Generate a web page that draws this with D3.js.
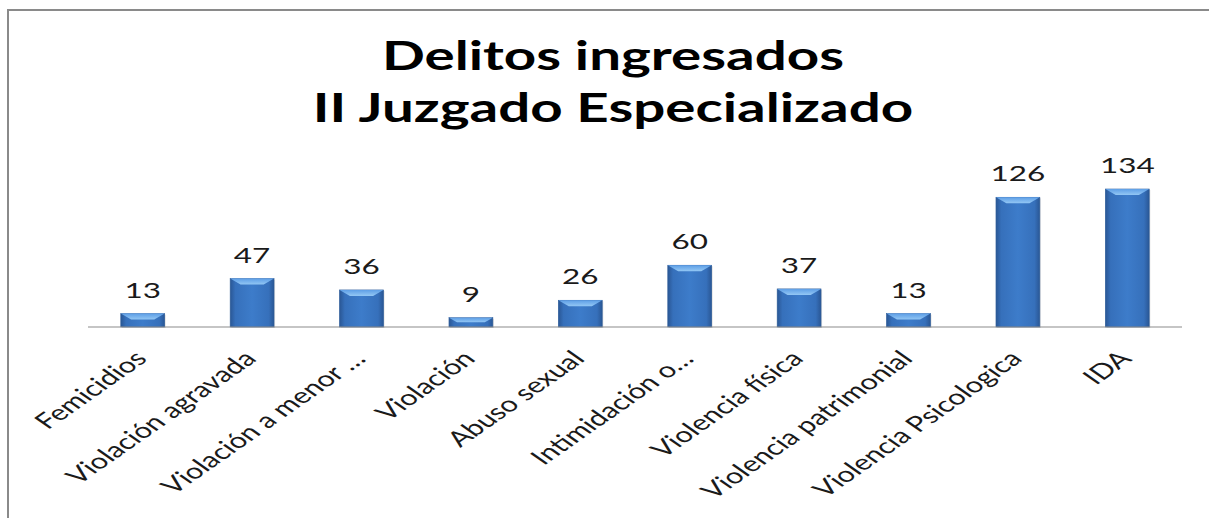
<!DOCTYPE html>
<html>
<head>
<meta charset="utf-8">
<script src="https://cdn.jsdelivr.net/npm/d3@7"></script>
<style>
  html, body { margin: 0; padding: 0; background: #fff; }
  svg { display: block; }
</style>
</head>
<body>
<div id="chart"></div>
<script>
// datos del gráfico
var categorias = ["Femicidios", "Violación agravada", "Violación a menor …", "Violación",
  "Abuso sexual", "Intimidación o…", "Violencia física", "Violencia patrimonial",
  "Violencia Psicologica", "IDA"];
var valores = [13, 47, 36, 9, 26, 60, 37, 13, 126, 134];
var titulo = ["Delitos ingresados", "II Juzgado Especializado"];

// la imagen original esta estirada en horizontal, se dibuja en un espacio estrecho y se estira
var sx = 1.43;
var cx = 1209, cy = 518;
var vw = cx / sx;

var svg = d3.select("#chart").append("svg")
  .attr("width", cx)
  .attr("height", cy)
  .attr("viewBox", "0 0 " + vw + " " + cy)
  .attr("preserveAspectRatio", "none");

var defs = svg.append("defs");
var grad = defs.append("linearGradient").attr("id", "barra")
  .attr("x1", "0%").attr("x2", "100%").attr("y1", "0%").attr("y2", "0%");
grad.append("stop").attr("offset", "0%").attr("stop-color", "#2a5795");
grad.append("stop").attr("offset", "12%").attr("stop-color", "#3670bb");
grad.append("stop").attr("offset", "50%").attr("stop-color", "#3d7cca");
grad.append("stop").attr("offset", "88%").attr("stop-color", "#3670bb");
grad.append("stop").attr("offset", "100%").attr("stop-color", "#2a5795");

var gradTop = defs.append("linearGradient").attr("id", "bisel")
  .attr("x1", "0%").attr("x2", "0%").attr("y1", "0%").attr("y2", "100%");
gradTop.append("stop").attr("offset", "0%").attr("stop-color", "#5d9ee6");
gradTop.append("stop").attr("offset", "100%").attr("stop-color", "#93c7f4");

// marco
svg.append("line").attr("x1", 7 / sx).attr("x2", vw + 5).attr("y1", 10).attr("y2", 10)
  .attr("stroke", "#8a8a8a").attr("stroke-width", 2);
svg.append("line").attr("x1", 8 / sx).attr("x2", 8 / sx).attr("y1", 9).attr("y2", cy + 5)
  .attr("stroke", "#8a8a8a").attr("stroke-width", 2 / sx);

//************************************************************
// escalas
//************************************************************
var base = 327;
var xScale = d3.scaleBand()
  .domain(categorias)
  .range([88 / sx, 1182 / sx])
  .paddingInner(0.6)
  .paddingOuter(0.3);

var yScale = d3.scaleLinear()
  .domain([0, 160])
  .range([base, base - 160 * 1.03]);

// titulo
svg.append("g").selectAll("text")
  .data(titulo)
  .enter().append("text")
  .attr("x", 613 / sx)
  .attr("y", function(d, i) { return 70 + i * 52; })
  .attr("text-anchor", "middle")
  .attr("font-family", "Lato, 'Open Sans', sans-serif")
  .attr("font-weight", "bold")
  .attr("font-size", 39.5)
  .attr("fill", "#000")
  .text(function(d) { return d; });

// barras
var bw = xScale.bandwidth();
var bisel = 6;
var g = svg.append("g");

g.selectAll("rect.sombra")
  .data(valores)
  .enter().append("rect")
  .attr("class", "sombra")
  .attr("x", function(d, i) { return xScale(categorias[i]) + 0.8; })
  .attr("y", function(d) { return yScale(d) + 1; })
  .attr("width", bw)
  .attr("height", function(d) { return base - yScale(d); })
  .attr("fill", "#000")
  .attr("opacity", 0.12);

g.selectAll("rect.barra")
  .data(valores)
  .enter().append("rect")
  .attr("class", "barra")
  .attr("x", function(d, i) { return xScale(categorias[i]); })
  .attr("y", function(d) { return yScale(d); })
  .attr("width", bw)
  .attr("height", function(d) { return base - yScale(d); })
  .attr("fill", "url(#barra)")
  .attr("stroke", "#2b5a98")
  .attr("stroke-width", 0.5);

g.selectAll("polygon")
  .data(valores)
  .enter().append("polygon")
  .attr("points", function(d, i) {
    var x0 = xScale(categorias[i]), y0 = yScale(d);
    var b = Math.min(bisel, (base - y0) / 2);
    return [[x0, y0], [x0 + bw, y0], [x0 + bw - b * 1.2, y0 + b], [x0 + b * 1.2, y0 + b]]
      .map(function(p) { return p.join(","); }).join(" ");
  })
  .attr("fill", "url(#bisel)");

// eje x
svg.append("line")
  .attr("x1", xScale.range()[0]).attr("x2", xScale.range()[1])
  .attr("y1", base).attr("y2", base)
  .attr("stroke", "#8c8c8c").attr("stroke-width", 1);

// etiquetas de valores
g.selectAll("text.valor")
  .data(valores)
  .enter().append("text")
  .attr("class", "valor")
  .attr("x", function(d, i) { return xScale(categorias[i]) + bw / 2; })
  .attr("y", function(d) { return yScale(d) - 16; })
  .attr("text-anchor", "middle")
  .attr("font-family", "Lato, 'Open Sans', sans-serif")
  .attr("font-size", 22)
  .attr("fill", "#1a1a1a")
  .text(function(d) { return d; });

// etiquetas de categorias, rotadas
svg.append("g").selectAll("text")
  .data(categorias)
  .enter().append("text")
  .attr("text-anchor", "end")
  .attr("transform", function(d) {
    var x = xScale(d) + bw / 2 + 4, y = base + 33;
    return "translate(" + x + "," + y + ") rotate(-45)";
  })
  .attr("font-family", "Lato, 'Open Sans', sans-serif")
  .attr("font-size", 21.5)
  .attr("fill", "#1a1a1a")
  .text(function(d) { return d; });
</script>
</body>
</html>
